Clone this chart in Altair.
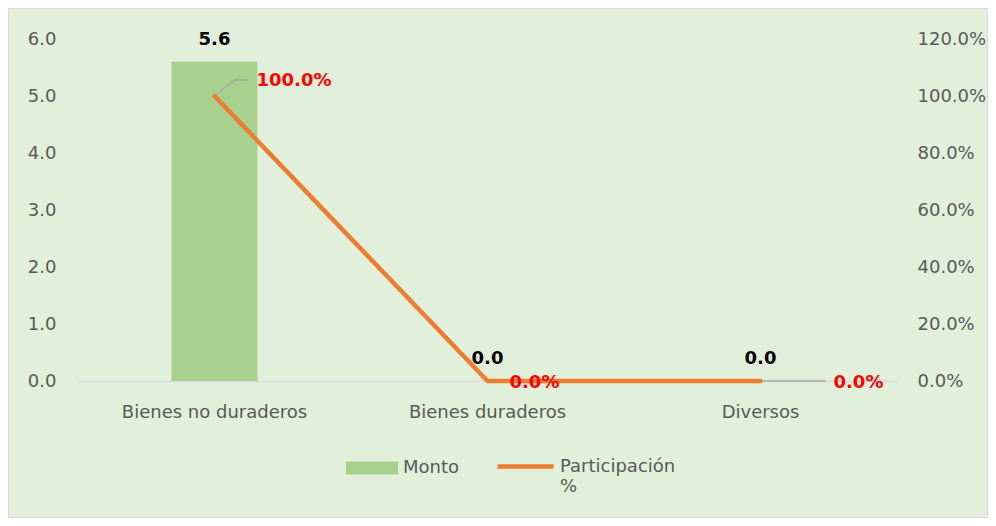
import altair as alt
import pandas as pd

categories = ["Bienes no duraderos", "Bienes duraderos", "Diversos"]
monto = [5.6, 0.0, 0.0]
participacion = [1.0, 0.0, 0.0]
monto_labels = ["5.6", "0.0", "0.0"]
pct_labels = ["100.0%", "0.0%", "0.0%"]

df = pd.DataFrame({
    "cat": categories,
    "monto": monto,
    "pct": participacion,
    "mlab": monto_labels,
    "plab": pct_labels,
    "idx": [0, 1, 2],
    "s1": ["Monto"] * 3,
    "s2": ["Participación %"] * 3,
})

FONT = "DejaVu Sans"
GRAY = "#595959"
W, H = 819, 342

x = alt.X("cat:N", sort=categories, title=None,
          scale=alt.Scale(paddingInner=0, paddingOuter=0),
          axis=alt.Axis(labelAngle=0, ticks=False, domainColor="#D9D9D9",
                        domainWidth=1.5, labelPadding=22, labelFontSize=18,
                        labelColor=GRAY, labelFont=FONT, labelLimit=400))

yl = alt.Y("monto:Q", title=None,
           scale=alt.Scale(domain=[0, 6], nice=False),
           axis=alt.Axis(values=[0, 1, 2, 3, 4, 5, 6], format=".1f", grid=False,
                         domain=False, ticks=False, labelPadding=22,
                         labelFontSize=18, labelColor=GRAY, labelFont=FONT))

yr = alt.Y("pct:Q", title=None,
           scale=alt.Scale(domain=[0, 1.2], nice=False),
           axis=alt.Axis(orient="right", values=[0, 0.2, 0.4, 0.6, 0.8, 1.0, 1.2],
                         format=".1%", grid=False, domain=False, ticks=False,
                         labelPadding=20, labelFontSize=18, labelColor=GRAY,
                         labelFont=FONT))

base = alt.Chart(df).encode(x=x)

bars = base.mark_bar(size=86).encode(
    y=yl,
    color=alt.Color("s1:N", scale=alt.Scale(domain=["Monto"], range=["#A9D18E"]),
                    legend=alt.Legend(title=None, orient="none", legendX=268, legendY=403,
                                      symbolType="M-1,-0.25L1,-0.25L1,0.25L-1,0.25Z",
                                      symbolSize=2704, labelOffset=5, labelFontSize=18,
                                      labelColor=GRAY, labelFont=FONT, padding=0,
                                      symbolStrokeWidth=0)),
)
bar_text = base.mark_text(fontSize=18, fontWeight="bold", color="black", dy=-22,
                          font=FONT).encode(y=yl, text="mlab:N")
left = alt.layer(bars, bar_text)

leader1 = base.transform_filter("datum.idx == 0").mark_point(
    shape="M0,0L0.4,-0.32L0.7,-0.32", size=10000, filled=False,
    color="#A6A6A6", strokeWidth=1.5, opacity=1).encode(y=yr)
leader3 = base.transform_filter("datum.idx == 2").mark_point(
    shape="M0,0L1.3,0", size=10000, filled=False,
    color="#A6A6A6", strokeWidth=1.5, opacity=1).encode(y=yr)

line = base.mark_line(strokeWidth=4.5, strokeCap="round", strokeJoin="round").encode(
    y=yr,
    stroke=alt.Stroke("s2:N", scale=alt.Scale(domain=["Participación %"], range=["#ED7D31"]),
                      legend=alt.Legend(title=None, orient="none", legendX=417, legendY=397,
                                        symbolType="stroke", symbolSize=3136,
                                        symbolStrokeWidth=4.5, labelOffset=4,
                                        labelFontSize=18, labelColor=GRAY, labelFont=FONT,
                                        padding=0,
                                        labelExpr="datum.label == 'Participación %' ? ['Participación', '%'] : datum.label")),
)

def ptext(i, dx, dy):
    return base.transform_filter(f"datum.idx == {i}").mark_text(
        fontSize=18, fontWeight="bold", color="#FF0000", align="left",
        dx=dx, dy=dy, font=FONT).encode(y=yr, text="plab:N")

right = alt.layer(leader1, leader3, line, ptext(0, 42, -15), ptext(1, 22, 2), ptext(2, 73, 2))

frame = alt.Chart(df).mark_rect(fill=None, stroke="#D9D9D9", strokeWidth=1).encode(
    x=alt.value(-70), x2=alt.value(W + 91), y=alt.value(-31), y2=alt.value(H + 137))

chart = alt.layer(frame, left, right).resolve_scale(
    y="independent", color="independent", stroke="independent"
).properties(
    width=W, height=H,
    padding={"left": 70, "top": 31, "right": 91, "bottom": 137},
    autosize=alt.AutoSizeParams(type="none"),
    background="#E2EFDA",
).configure_view(stroke=None)

chart.save("out.html", embed_options={"renderer": "svg", "actions": False})
